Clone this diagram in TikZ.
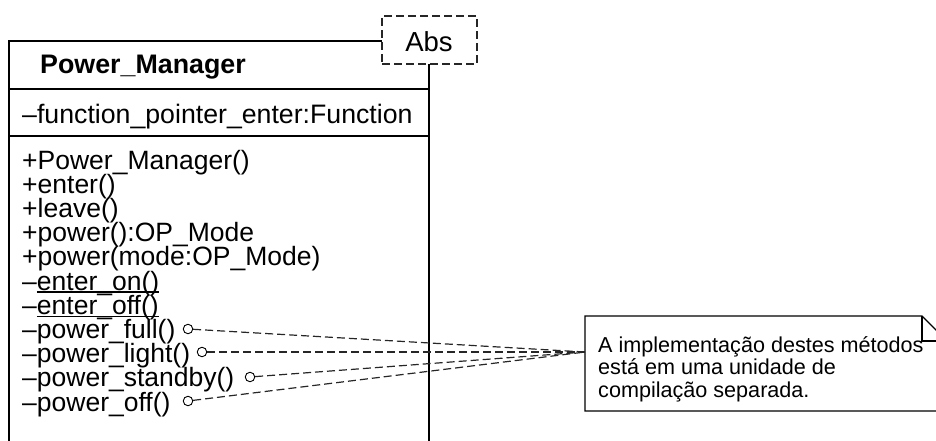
\documentclass[tikz,border=0pt]{standalone}
\usepackage{fontspec}
\setmainfont{Liberation Sans}
\newcommand\myul[1]{\setbox0\hbox{#1}\rlap{\rule[-2.6pt]{\wd0}{1.2pt}}\box0}
\begin{document}
\begin{tikzpicture}[x=1pt,y=-1pt,
  txt/.style={inner sep=0pt,anchor=base west,font=\fontsize{26.5}{24}\selectfont},
  notetxt/.style={inner sep=0pt,anchor=base west,font=\fontsize{21.6}{20}\selectfont},
  box/.style={line width=1.3pt,draw=black},
  dsh/.style={line width=1.2pt,dash pattern=on 8pt off 4pt,draw=black!85},
  port/.style={circle,draw=black,line width=0.9pt,inner sep=0pt,minimum size=9.5pt}]
\useasboundingbox (0,0) rectangle (936,441);
\clip (0,0) rectangle (936,441);
% class box
\coordinate (tl) at (9,41);
\coordinate (absl) at (382,41);
\coordinate (absb) at (429,64);
\draw[box] (absl) -- (tl) -- (9,460);
\draw[box] (absb) -- (429,460);
\draw[box] (9,89) -- (429,89);
\draw[box] (9,136) -- (429,136);
% Abs
\node[dsh,draw,minimum width=95pt,minimum height=48pt,inner sep=0pt] (abs) at (429.5,40) {};
\node[inner sep=0pt,anchor=base,font=\fontsize{27.5}{24}\selectfont] (abstxt) at (429,52) {Abs};
% title
\node[txt,font=\bfseries\fontsize{26.8}{24}\selectfont] (title) at (40,74) {Power\_Manager};
\node[txt,font=\fontsize{26.7}{24}\selectfont] (attr) at (22,124) {–function\_pointer\_enter:Function};
% methods
\node[txt] (m0) at (22,169) {+Power\_Manager()};
\node[txt] (m1) at (22,193.2) {+enter()};
\node[txt] (m2) at (22,217.4) {+leave()};
\node[txt] (m3) at (22,241.6) {+power():OP\_Mode};
\node[txt] (m4) at (22,265.8) {+power(mode:OP\_Mode)};
\node[txt] (m5) at (22,290) {–\myul{enter\_on()}};
\node[txt] (m6) at (22,314.2) {–\myul{enter\_off()}};
\node[txt] (m7) at (22,338.4) {–power\_full()};
\node[txt] (m8) at (22,362.6) {–power\_light()};
\node[txt] (m9) at (22,386.8) {–power\_standby()};
\node[txt] (m10) at (22,411) {–power\_off()};
% ports
\node[port] (p1) at (188,329) {};
\node[port] (p2) at (202,352) {};
\node[port] (p3) at (250,377) {};
\node[port] (p4) at (188,401) {};
% note
\coordinate (nin) at (585,352);
\draw[box,line width=1.1pt] (585,316) -- (922,316) -- (947,341) -- (947,411) -- (585,411) -- cycle;
\draw[box,line width=1.1pt] (922,316) -- (922,341) -- (947,341);
\node[notetxt] (n1) at (598,352) {A implementação destes métodos};
\node[notetxt] (n2) at (598,374.5) {está em uma unidade de};
\node[notetxt] (n3) at (598,397) {compilação separada.};
% connectors
\draw[dsh] (p1) -- (nin);
\draw[dsh] (p2) -- (nin);
\draw[dsh] (p3) -- (nin);
\draw[dsh] (p4) -- (nin);
\end{tikzpicture}
\end{document}
